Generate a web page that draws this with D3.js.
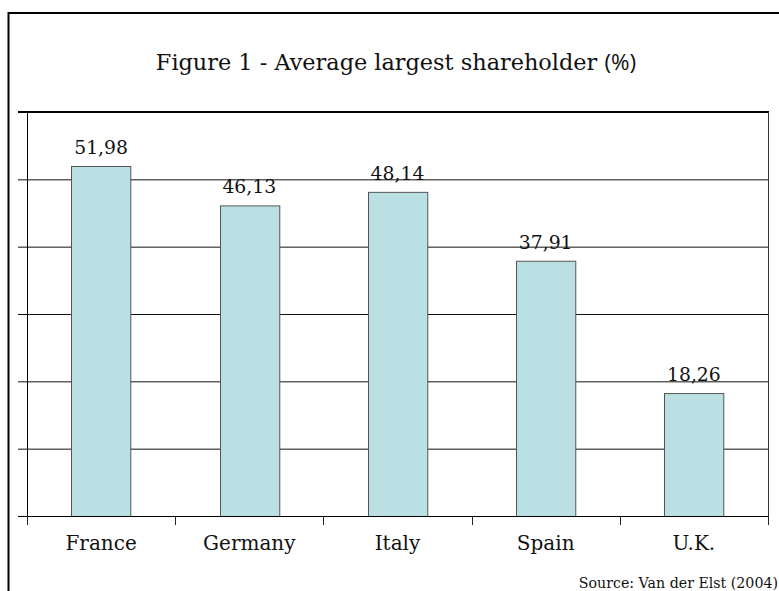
<!DOCTYPE html>
<html>
<head>
<meta charset="utf-8">
<script src="https://cdn.jsdelivr.net/npm/d3@7"></script>
<style>
  html, body { margin: 0; padding: 0; background: #fff; }
  svg { display: block; }
</style>
</head>
<body>
<svg id="chart" width="779" height="591"></svg>
<script>
const categories = ["France", "Germany", "Italy", "Spain", "U.K."];
const values = [51.98, 46.13, 48.14, 37.91, 18.26];
const valueLabels = ["51,98", "46,13", "48,14", "37,91", "18,26"];
const yTicks = [0, 10, 20, 30, 40, 50, 60];
const titleMain = "Figure 1 - Average largest shareholder ";
const titlePct = "(%)";
const sourceText = "Source: Van der Elst (2004)";

(function () {
const svg = d3.select("#chart");
const serif = "'DejaVu Serif', 'Liberation Serif', serif";

const pLeft = 27, pRight = 768, pTop = 112, pBottom = 516;

const x = d3.scaleBand().domain(categories).range([pLeft, pRight])
  .paddingInner(0.6).paddingOuter(0.3);
const y = d3.scaleLinear().domain([0, 60]).range([pBottom, pTop]);

// outer frame (top and left)
svg.append("path")
  .attr("d", "M8.5,600 L8.5,13 L790,13")
  .attr("fill", "none").attr("stroke", "#000").attr("stroke-width", 2);

// title
const t = svg.append("text")
  .attr("x", 396).attr("y", 70)
  .attr("text-anchor", "middle")
  .attr("font-family", serif).attr("font-size", 22.4)
  .attr("fill", "#111");
t.append("tspan").text(titleMain);
t.append("tspan").attr("font-family", "'Open Sans', 'Noto Sans', sans-serif").text(titlePct);

// gridlines with left tick marks
const grid = svg.append("g").attr("transform", `translate(18,0)`)
  .call(d3.axisLeft(y).tickValues(yTicks.filter(v => v > 0 && v < 60)).tickSize(-(pRight - 18)).tickFormat(""));
grid.select(".domain").remove();
grid.selectAll(".tick line").attr("stroke", "#111").attr("stroke-width", 1);

// top border of plot (value 60)
svg.append("line")
  .attr("x1", 18).attr("x2", pRight + 1)
  .attr("y1", y(60)).attr("y2", y(60))
  .attr("stroke", "#000").attr("stroke-width", 2);

// right border of plot
svg.append("line")
  .attr("x1", pRight + 0.5).attr("x2", pRight + 0.5)
  .attr("y1", y(60)).attr("y2", pBottom + 9)
  .attr("stroke", "#333").attr("stroke-width", 1);

// bars
svg.append("g").selectAll("rect")
  .data(categories)
  .join("rect")
  .attr("x", d => Math.round(x(d)) + 0.5)
  .attr("y", (d, i) => y(values[i]) + 0.5)
  .attr("width", x.bandwidth())
  .attr("height", (d, i) => pBottom - y(values[i]))
  .attr("fill", "#BBE0E3")
  .attr("stroke", "#555").attr("stroke-width", 1);

// value labels
svg.append("g").selectAll("text")
  .data(categories)
  .join("text")
  .attr("x", d => x(d) + x.bandwidth() / 2)
  .attr("y", (d, i) => y(values[i]) - 12)
  .attr("text-anchor", "middle")
  .attr("font-family", serif).attr("font-size", 18.8)
  .attr("fill", "#111")
  .text((d, i) => valueLabels[i]);

// left axis line
svg.append("line")
  .attr("x1", pLeft + 0.5).attr("x2", pLeft + 0.5)
  .attr("y1", y(60)).attr("y2", pBottom + 9)
  .attr("stroke", "#000").attr("stroke-width", 1);

// x axis line
svg.append("line")
  .attr("x1", 18).attr("x2", pRight + 1)
  .attr("y1", pBottom + 0.5).attr("y2", pBottom + 0.5)
  .attr("stroke", "#000").attr("stroke-width", 1);

// category boundary ticks
const bounds = d3.range(categories.length + 1).map(i => pLeft + i * x.step());
svg.append("g").selectAll("line")
  .data(bounds)
  .join("line")
  .attr("x1", d => Math.round(d) + 0.5).attr("x2", d => Math.round(d) + 0.5)
  .attr("y1", pBottom).attr("y2", pBottom + 9)
  .attr("stroke", "#222").attr("stroke-width", 1);

// category labels
svg.append("g").selectAll("text")
  .data(categories)
  .join("text")
  .attr("x", d => x(d) + x.bandwidth() / 2)
  .attr("y", 550)
  .attr("text-anchor", "middle")
  .attr("font-family", serif).attr("font-size", 20)
  .attr("fill", "#111")
  .text(d => d);

// source
svg.append("text")
  .attr("x", 778).attr("y", 588)
  .attr("text-anchor", "end")
  .attr("font-family", serif).attr("font-size", 14.2)
  .attr("fill", "#111")
  .text(sourceText);
})();
</script>
</body>
</html>
